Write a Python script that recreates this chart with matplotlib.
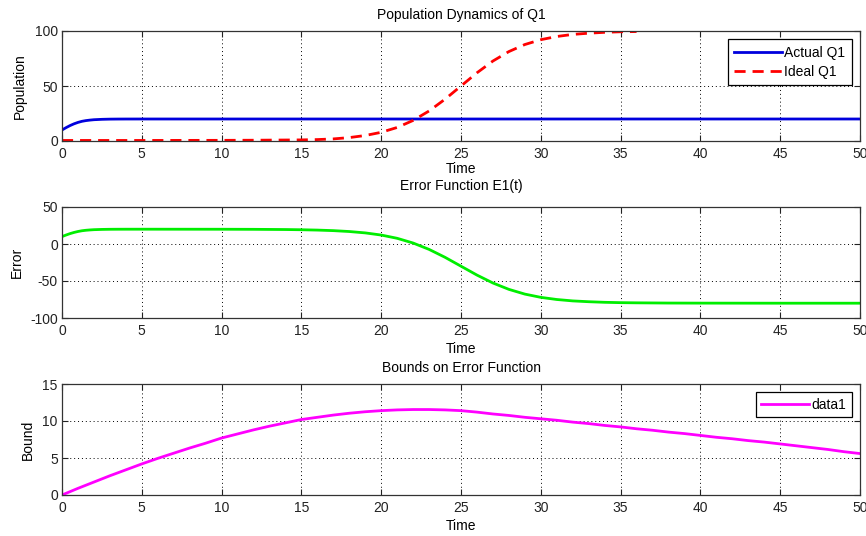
import matplotlib
matplotlib.use("Agg")
import matplotlib.pyplot as plt

plt.rcParams['font.family'] = ['Liberation Sans', 'DejaVu Sans']
plt.rcParams['font.size'] = 10
plt.rcParams['axes.unicode_minus'] = False

# ---- data ----
t_actual = [0, 0.25, 0.5, 0.75, 1, 1.25, 1.5, 1.75, 2, 2.5, 3, 3.5, 4, 5, 10, 15, 20, 25, 30, 35, 40, 45, 50]
actual_q1 = [10, 12.1, 14.0, 15.6, 16.9, 17.9, 18.55, 19.0, 19.35, 19.7, 19.88, 19.95, 19.98, 20, 20, 20, 20, 20, 20, 20, 20, 20, 20]

t_ideal = [0, 5, 10, 12, 14, 15, 16, 17, 18, 19, 20, 21, 22, 23, 24, 25, 26, 27, 28, 29, 30, 31, 32, 33, 34, 35, 36]
ideal_q1 = [0.5, 0.5, 0.6, 0.7, 0.9, 1.0, 1.3, 1.9, 3.1, 5.0, 7.9, 12.3, 18.7, 27.3, 38.0, 50.0, 62.0, 72.7, 81.3, 87.7, 92.1, 95.0, 96.9, 98.0, 98.8, 99.3, 99.5]

t_error = [0, 0.25, 0.5, 0.75, 1, 1.25, 1.5, 1.75, 2, 2.5, 3, 3.5, 4, 5, 10, 12, 14, 15, 16, 17, 18, 19, 20, 21, 22, 23, 24, 25, 26, 27, 28, 29, 30, 31, 32, 33, 34, 35, 36, 38, 40, 45, 50]
error_e1 = [10, 12.1, 14.0, 15.6, 16.9, 17.9, 18.55, 19.0, 19.35, 19.7, 19.88, 19.95, 19.98, 20, 19.94, 19.83, 19.55, 19.26, 18.8, 18.06, 16.86, 15.0, 12.1, 7.7, 1.3, -7.3, -18.0, -30.0, -42.0, -52.7, -61.3, -67.7, -72.1, -75.0, -76.9, -78.0, -78.8, -79.26, -79.5, -79.8, -79.9, -80, -80]

t_bound = list(range(0, 51))
bound = [0, 0.9, 1.75, 2.6, 3.4, 4.2, 4.95, 5.65, 6.35, 7.0,
         7.7, 8.25, 8.8, 9.3, 9.75, 10.2, 10.5, 10.8, 11.05, 11.25,
         11.4, 11.5, 11.55, 11.55, 11.5, 11.4, 11.2, 10.95, 10.75, 10.5,
         10.3, 10.1, 9.85, 9.65, 9.4, 9.2, 8.95, 8.75, 8.5, 8.3,
         8.05, 7.8, 7.6, 7.35, 7.15, 6.9, 6.65, 6.4, 6.15, 5.85, 5.6]

x_ticks = [0, 5, 10, 15, 20, 25, 30, 35, 40, 45, 50]

W, H = 866, 536
fig = plt.figure(figsize=(W / 100, H / 100), dpi=100)

def make_ax(top_px, bottom_px):
    left, right = 62, 860
    return fig.add_axes([left / W, (H - bottom_px) / H, (right - left) / W, (bottom_px - top_px) / H])

def style(ax, yticks, ylabel, title, title_pad, ylabel_pad, xlabel_pad=3):
    ax.set_xlim(0, 50)
    ax.set_xticks(x_ticks)
    ax.set_yticks(yticks)
    ax.set_ylim(yticks[0], yticks[-1])
    ax.grid(True, color='black', linestyle=(0, (1, 3)), linewidth=0.7)
    ax.tick_params(direction='in', top=True, right=True, length=4, width=0.8,
                   colors='#222222', labelsize=10)
    ax.tick_params(axis='x', pad=4)
    ax.tick_params(axis='y', pad=3)
    for s in ax.spines.values():
        s.set_color('#333333')
        s.set_linewidth(0.9)
    ax.set_xlabel('Time', fontsize=10, labelpad=xlabel_pad)
    ax.set_ylabel(ylabel, fontsize=10, labelpad=ylabel_pad)
    ax.set_title(title, fontsize=10, pad=title_pad)

ax1 = make_ax(31, 141)
ax1.plot(t_actual, actual_q1, color='#0000DD', linewidth=2, label='Actual Q1')
ax1.plot(t_ideal, ideal_q1, color='#FF0000', linewidth=2, linestyle=(0, (4, 2.5)), label='Ideal Q1')
style(ax1, [0, 50, 100], 'Population', 'Population Dynamics of Q1', 9, 6, xlabel_pad=1)
leg1 = ax1.legend(loc='upper right', fancybox=False, framealpha=1, edgecolor='black',
                  handlelength=3.4, fontsize=10, borderaxespad=0.6, labelspacing=0.4,
                  handletextpad=0.2, borderpad=0.45)
leg1.get_frame().set_linewidth(0.9)

ax2 = make_ax(207, 318)
ax2.plot(t_error, error_e1, color='#00EE00', linewidth=2)
style(ax2, [-100, -50, 0, 50], 'Error', 'Error Function E1(t)', 12, 4.5)

ax3 = make_ax(384, 495)
ax3.plot(t_bound, bound, color='#FF00FF', linewidth=2, label='data1')
style(ax3, [0, 5, 10, 15], 'Bound', 'Bounds on Error Function', 9, 5.4)
leg3 = ax3.legend(loc='upper right', fancybox=False, framealpha=1, edgecolor='black',
                  handlelength=3.4, fontsize=10, borderaxespad=0.6,
                  handletextpad=0.2, borderpad=0.4)
leg3.get_frame().set_linewidth(0.9)

fig.savefig('out.png', dpi=100, facecolor='white')
